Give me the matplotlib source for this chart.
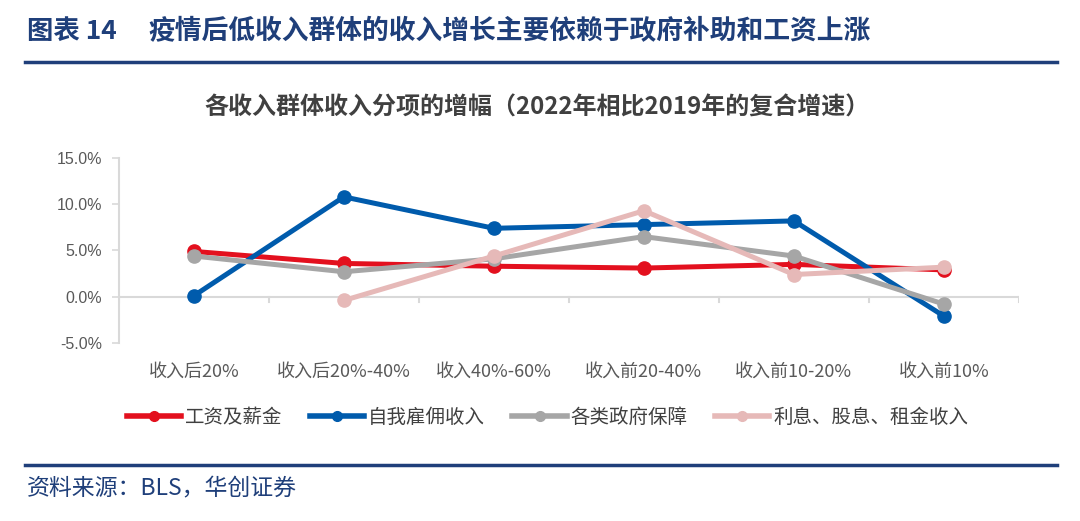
import numpy as np
import matplotlib.pyplot as plt
from matplotlib.lines import Line2D

plt.rcParams['font.family'] = ['Noto Sans CJK SC', 'DejaVu Sans']

categories = ['收入后20%', '收入后20%-40%', '收入40%-60%', '收入前20-40%', '收入前10-20%', '收入前10%']
wages = [4.9, 3.6, 3.3, 3.1, 3.5, 2.9]
self_emp = [0.1, 10.8, 7.4, 7.8, 8.2, -2.1]
gov = [4.4, 2.7, 4.1, 6.5, 4.4, -0.8]
interest = [np.nan, -0.4, 4.4, 9.3, 2.4, 3.2]
series_names = ['工资及薪金', '自我雇佣收入', '各类政府保障', '利息、股息、租金收入']
colors = ['#E3101E', '#005BAC', '#A6A6A6', '#E6B9B8']
yticks = [-5, 0, 5, 10, 15]

fig = plt.figure(figsize=(10.8, 5.21), dpi=100)
ax = fig.add_axes([0.110, 0.3417, 0.8335, 0.355])

x = np.arange(len(categories))
for vals, c in zip([wages, self_emp, gov, interest], colors):
    ax.plot(x, vals, color=c, lw=3.6, marker='o', ms=9.5, solid_capstyle='round')

ax.set_xlim(-0.5, len(categories) - 0.5)
ax.set_ylim(-5, 15)
ax.set_yticks(yticks)
ax.set_yticklabels(['%.1f%%' % v for v in yticks], fontsize=11.5, color='#595959',
                   family=['Liberation Sans', 'DejaVu Sans'])
ax.tick_params(axis='y', length=5, width=1.2, color='#D9D9D9', pad=7)
ax.set_xticks(x)
ax.set_xticklabels(categories, fontsize=13, color='#595959')
ax.tick_params(axis='x', length=0, pad=14)
for s in ['top', 'right', 'bottom']:
    ax.spines[s].set_visible(False)
ax.spines['left'].set_color('#D9D9D9')
ax.spines['left'].set_linewidth(1.5)
ax.axhline(0, color='#D9D9D9', lw=1.5, zorder=0)
for b in np.arange(-0.5, len(categories), 1.0):
    ax.plot([b, b], [0, -0.55], color='#D9D9D9', lw=1.5, zorder=0)

handles = [Line2D([], [], color=c, lw=4, marker='o', ms=7) for c in colors]
fig.legend(handles, series_names, loc='center', bbox_to_anchor=(0.507, 0.199), ncol=4,
           frameon=False, fontsize=14, labelcolor='#404040', handlelength=2.8,
           handletextpad=0.2, columnspacing=1.4)

navy = '#1F3F7A'
fig.text(0.025, 0.94, '图表 14', fontsize=19, fontweight='bold', color=navy, va='center')
fig.text(0.137, 0.94, '疫情后低收入群体的收入增长主要依赖于政府补助和工资上涨',
         fontsize=19.3, fontweight='bold', color=navy, va='center')
fig.add_artist(Line2D([0.023, 0.979], [0.881, 0.881], color=navy, lw=2.5))
fig.text(0.497, 0.793, '各收入群体收入分项的增幅（2022年相比2019年的复合增速）',
         fontsize=17.3, fontweight='bold', color='#404040', ha='center', va='center')
fig.add_artist(Line2D([0.023, 0.979], [0.107, 0.107], color=navy, lw=2.5))
fig.text(0.025, 0.063, '资料来源：BLS，华创证券', fontsize=16.5, color=navy, va='center',
         style='italic')

plt.savefig('out.png', dpi=100)
